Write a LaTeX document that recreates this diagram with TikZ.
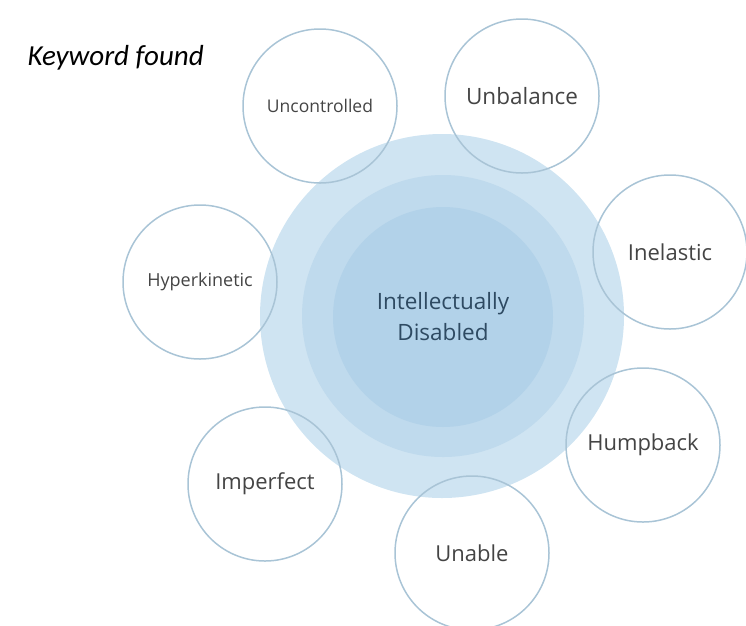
\documentclass[tikz,border=0pt]{standalone}
\usepackage{fontspec}
\setmainfont{Open Sans}
\newfontfamily\notefont{Carlito}
\usepackage{tikz}

\definecolor{ringblue}{HTML}{A9C4D6}
\definecolor{outerblue}{HTML}{CFE4F2}
\definecolor{midblue}{HTML}{BFDAED}
\definecolor{innerblue}{HTML}{B2D2E9}
\definecolor{wordgray}{HTML}{444444}
\definecolor{coretext}{HTML}{2E4A62}

\tikzset{
  keyring/.style={circle, draw=ringblue, line width=1.5pt, inner sep=0pt,
    text=wordgray},
  corering/.style={circle, inner sep=0pt}
}

\begin{document}
\begin{tikzpicture}[x=1pt,y=-1pt]
    \useasboundingbox (0,0) rectangle (746,625);

    % core: three rings, lightest outside
    \node[corering, fill=outerblue, minimum size=364pt] (outer) at (442,316) {};
    \node[corering, fill=midblue, minimum size=282pt] (middle) at (443,316) {};
    \node[corering, fill=innerblue, minimum size=220pt, text=coretext,
      align=center, font=\fontsize{22.5}{31}\selectfont]
      (core) at (443,317) {Intellectually\\Disabled};

    % keywords round the core
    \foreach \name/\x/\y/\fs/\word in {
        uncon/320/106/17.5/Uncontrolled,
        unbal/522/96/22.5/Unbalance,
        inel/670/252/22/Inelastic,
        hyper/200/282/18/Hyperkinetic,
        hump/643/445/22/Humpback,
        imperf/265/484/22/Imperfect,
        unable/472/553/22/Unable}
      \node[keyring, minimum size=154pt, font=\fontsize{\fs}{\fs}\selectfont]
        (\name) at (\x,\y) {\word};

    \node[anchor=west, font=\notefont\itshape\fontsize{29}{32}\selectfont]
      (title) at (24,58) {Keyword found};
\end{tikzpicture}
\end{document}
